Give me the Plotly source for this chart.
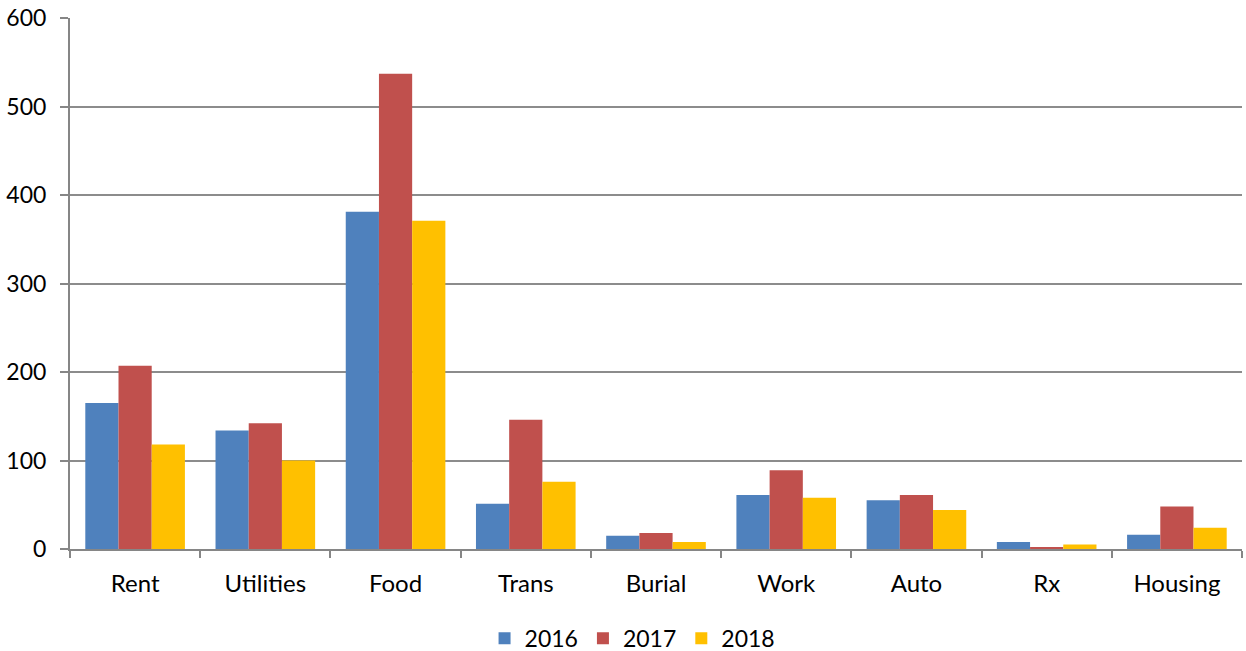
import plotly.graph_objects as go

categories = ["Rent", "Utilities", "Food", "Trans", "Burial", "Work", "Auto", "Rx", "Housing"]
series_names = ["2016", "2017", "2018"]
values_2016 = [165, 134, 381, 51, 15, 61, 55, 8, 16]
values_2017 = [207, 142, 537, 146, 18, 89, 61, 2, 48]
values_2018 = [118, 100, 371, 76, 8, 58, 44, 5, 24]
colors = ["#4F81BD", "#C0504D", "#FFC000"]
y_ticks = [0, 100, 200, 300, 400, 500, 600]

fig = go.Figure()
for name, vals, col in zip(series_names, [values_2016, values_2017, values_2018], colors):
    fig.add_trace(go.Bar(x=categories, y=vals, name=name, marker_color=col,
                         marker_line_width=0))

font_family = "Lato, Carlito, Calibri, sans-serif"
fig.update_layout(
    width=1246, height=651,
    margin=dict(l=70, r=4, t=18, b=102, autoexpand=False),
    paper_bgcolor="white", plot_bgcolor="white",
    barmode="group", bargap=0.235, bargroupgap=0,
    font=dict(family=font_family, size=24, color="#000000"),
    showlegend=True,
    legend=dict(orientation="h", x=0.48, xanchor="center", y=-0.168, yanchor="middle",
                font=dict(size=23), itemwidth=30, traceorder="normal"),
)
fig.update_xaxes(
    type="category", showline=True, linecolor="#868686", linewidth=2,
    ticks="outside", tickson="boundaries", ticklen=7, tickwidth=2, tickcolor="#868686",
    showgrid=False, ticklabelstandoff=12, tickfont=dict(size=24), automargin=False,
)
fig.update_yaxes(
    range=[0, 600], tickvals=y_ticks, showline=True, linecolor="#868686", linewidth=2,
    ticks="outside", ticklen=8, tickwidth=2, tickcolor="#868686",
    showgrid=True, gridcolor="#8c8c8c", gridwidth=1.5, zeroline=False,
    ticklabelstandoff=9, tickfont=dict(size=23), automargin=False,
    ticklabeloverflow="allow",
)

fig.write_html("out.html", config={"displayModeBar": False},
               post_script="document.body.style.margin='0';document.body.style.overflow='hidden';")
